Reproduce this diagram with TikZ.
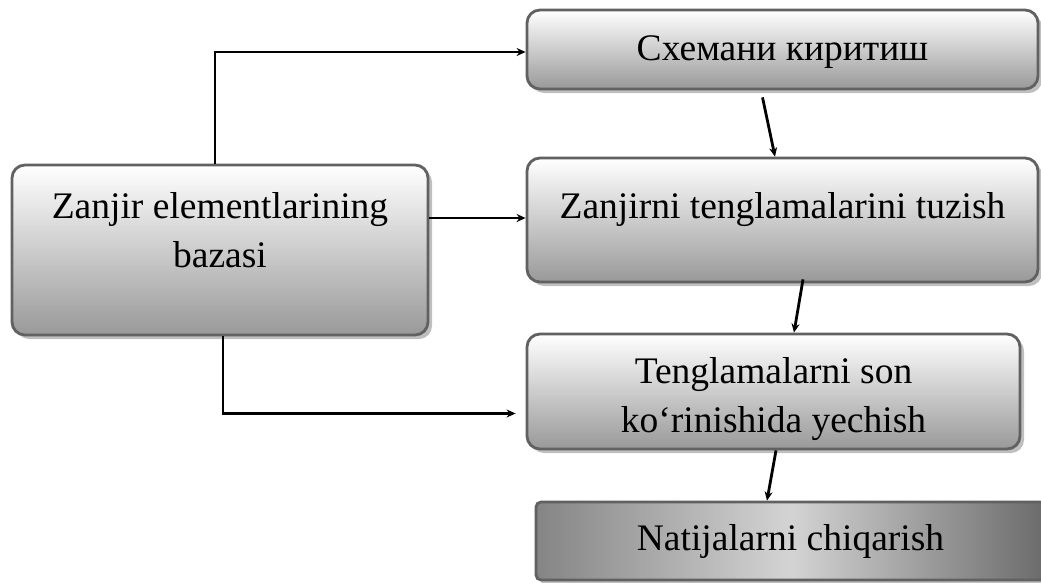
\documentclass[tikz,border=0pt]{standalone}
\usepackage{fontspec}
\setmainfont{Liberation Serif}
\usepackage{tikz}
\usetikzlibrary{shadows}
\usetikzlibrary{arrows.meta}

\begin{document}
\begin{tikzpicture}[x=1pt,y=-1pt,
  blok/.style={draw=black!62,line width=2.8pt,rounded corners=13pt,top color=white,bottom color=black!40,
    align=center,inner sep=0pt,font=\fontsize{37.5}{49}\selectfont,
    drop shadow={shadow xshift=4pt,shadow yshift=-4pt,fill=black!25,opacity=1}},
  strelka/.style={line width=2.8pt,-{Stealth[length=9pt,width=8pt]}}]
\useasboundingbox (0,0) rectangle (1041,582);
\node[blok,minimum width=416pt,text height=102pt,text depth=68pt] (baza) at (220,250) {Zanjir elementlarining\\bazasi};
\node[blok,minimum width=511pt,text height=50pt,text depth=29pt] (sxema) at (782.5,49.5) {Схемани киритиш};
\node[blok,minimum width=511pt,text height=60pt,text depth=64pt] (tenglama) at (782.5,220) {Zanjirni tenglamalarini tuzish};
\node[blok,minimum width=493pt,text height=98pt,text depth=17pt] (yechish) at (773.5,391.5) {Tenglamalarni son\\ko‘rinishida yechish};
\node[blok,rounded corners=5pt,left color=black!48,right color=black!58,middle color=black!17,
  minimum width=509pt,text height=48pt,text depth=30pt] (natija) at (790.5,541) {Natijalarni chiqarish};
%
\draw[strelka] ([xshift=-5pt]baza.north) |- ([yshift=-2.5pt]sxema.west);
\draw[strelka] ([yshift=32pt]baza.east) -- ([yshift=32pt]baza.east -| tenglama.west);
\draw[strelka] ([xshift=3pt]baza.south) |- ([xshift=-10pt,yshift=-22pt]yechish.west);
\draw[strelka] ([xshift=-20pt,yshift=-7pt]sxema.south) -- ([xshift=-7.5pt]tenglama.north);
\draw[strelka] ([xshift=20.5pt,yshift=4pt]tenglama.south) -- ([xshift=20.5pt]yechish.north);
\draw[strelka] ([xshift=2.5pt]yechish.south) -- ([xshift=-23.5pt]natija.north);
\end{tikzpicture}
\end{document}
